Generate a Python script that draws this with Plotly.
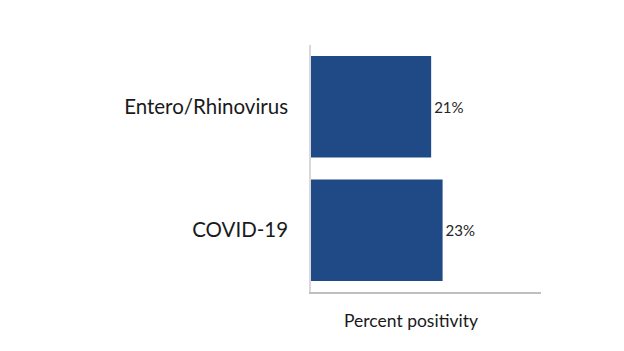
import plotly.graph_objects as go

categories = ["COVID-19", "Entero/Rhinovirus"]
values = [23, 21]
labels = ["23%", "21%"]

fig = go.Figure(go.Bar(
    x=values, y=categories, orientation="h",
    marker=dict(color="#1F4A86", line=dict(width=0)),
    width=0.82,
    text=labels, textposition="outside",
    textfont=dict(family="Lato, Noto Sans, sans-serif", size=15, color="#262626"),
    cliponaxis=False,
))

fig.update_layout(
    width=624, height=351,
    margin=dict(l=311, r=83, t=45, b=59),
    paper_bgcolor="white", plot_bgcolor="white",
    showlegend=False,
    xaxis=dict(range=[0, 40.2], showticklabels=False, showgrid=False, zeroline=False,
               showline=True, linecolor="#BFBFBF", linewidth=1.5, ticks=""),
    yaxis=dict(range=[-0.5, 1.5], showgrid=False, zeroline=False,
               showline=True, linecolor="#D9D9D9", linewidth=1.5, ticks="",
               ticklabelstandoff=17,
               tickfont=dict(family="Lato, Noto Sans, sans-serif", size=20.5, color="#1a1a1a")),
    annotations=[dict(text="Percent positivity", xref="paper", yref="paper",
                      x=0.435, y=-0.117, showarrow=False, xanchor="center", yanchor="middle",
                      font=dict(family="Lato, Noto Sans, sans-serif", size=17.5, color="#1a1a1a"))],
)

fig.write_html("out.html")
